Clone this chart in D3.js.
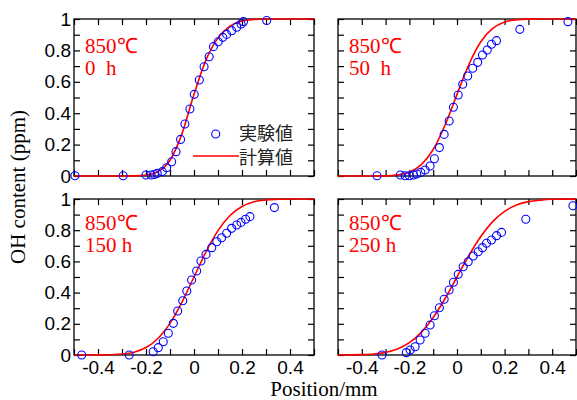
<!DOCTYPE html>
<html>
<head>
<meta charset="utf-8">
<script src="https://cdn.jsdelivr.net/npm/d3@7"></script>
<style>
  html, body { margin: 0; padding: 0; background: #fff; }
  svg { display: block; font-family: "Liberation Serif", "Times New Roman", serif; }
  .tick text { font-size: 19px; fill: #000; }
  .tick line { stroke: #000; stroke-width: 1.2; }
</style>
</head>
<body>
<div id="chart"></div>
<script>
// ---- data ----
var panelLabels = ["0\u2002h", "50\u2002h", "150 h", "250 h"];
var tempLabel = "850\u2103";
var xTicks = [-0.5, -0.4, -0.3, -0.2, -0.1, 0, 0.1, 0.2, 0.3, 0.4, 0.5];
var yTicks = [0, 0.1, 0.2, 0.3, 0.4, 0.5, 0.6, 0.7, 0.8, 0.9, 1];

// measured (実験値): position in mm
var exp0hX = [-0.496, -0.295, -0.2, -0.179, -0.165, -0.153, -0.132, -0.114, -0.093, -0.075, -0.056, -0.038, -0.017, 0.001, 0.022, 0.042, 0.063, 0.081, 0.101, 0.12, 0.136, 0.157, 0.178, 0.196, 0.206, 0.303];
var exp0hY = [0.002, 0.002, 0.006, 0.006, 0.01, 0.017, 0.028, 0.053, 0.091, 0.155, 0.233, 0.331, 0.427, 0.52, 0.611, 0.696, 0.76, 0.824, 0.855, 0.883, 0.902, 0.925, 0.947, 0.968, 0.983, 0.99];

var exp50hX = [-0.336, -0.238, -0.218, -0.2, -0.183, -0.169, -0.152, -0.134, -0.113, -0.095, -0.074, -0.054, -0.033, -0.015, 0.005, 0.024, 0.045, 0.066, 0.087, 0.107, 0.127, 0.145, 0.166, 0.264, 0.466];
var exp50hY = [0.002, 0.006, 0.002, 0.002, 0.006, 0.013, 0.023, 0.038, 0.064, 0.11, 0.181, 0.265, 0.35, 0.438, 0.516, 0.584, 0.637, 0.686, 0.724, 0.771, 0.803, 0.839, 0.862, 0.934, 0.983];

var exp150hX = [-0.468, -0.27, -0.17, -0.149, -0.128, -0.107, -0.086, -0.068, -0.047, -0.03, -0.01, 0.011, 0.029, 0.05, 0.074, 0.095, 0.115, 0.136, 0.157, 0.178, 0.196, 0.215, 0.233, 0.335];
var exp150hY = [0, 0, 0.021, 0.047, 0.085, 0.139, 0.203, 0.282, 0.348, 0.41, 0.481, 0.538, 0.603, 0.645, 0.688, 0.726, 0.752, 0.78, 0.812, 0.833, 0.85, 0.87, 0.887, 0.945];

var exp250hX = [-0.315, -0.213, -0.197, -0.176, -0.155, -0.134, -0.113, -0.095, -0.074, -0.054, -0.033, -0.015, 0.005, 0.026, 0.047, 0.068, 0.089, 0.107, 0.124, 0.145, 0.166, 0.187, 0.289, 0.487];
var exp250hY = [0, 0.015, 0.032, 0.053, 0.096, 0.139, 0.192, 0.252, 0.303, 0.357, 0.417, 0.466, 0.517, 0.566, 0.598, 0.635, 0.662, 0.688, 0.716, 0.737, 0.765, 0.786, 0.87, 0.957];

// calculated (計算値): sampled every 0.05 mm
var calcX = [-0.5, -0.45, -0.4, -0.35, -0.3, -0.25, -0.2, -0.15, -0.1, -0.05, 0, 0.05, 0.1, 0.15, 0.2, 0.25, 0.3, 0.35, 0.4, 0.45, 0.5];
var calc0h = [0, 0, 0, 0, 0, 0.001, 0.006, 0.028, 0.1, 0.27, 0.52, 0.74, 0.88, 0.955, 0.988, 0.997, 1, 1, 1, 1, 1];
var calc50h = [0, 0, 0, 0.0003, 0.001, 0.007, 0.024, 0.072, 0.169, 0.325, 0.52, 0.71, 0.855, 0.94, 0.981, 0.995, 0.999, 1, 1, 1, 1];
var calc150h = [0, 0, 0.0005, 0.0018, 0.006, 0.018, 0.048, 0.106, 0.203, 0.339, 0.5, 0.661, 0.797, 0.894, 0.952, 0.982, 0.994, 0.998, 1, 1, 1];
var calc250h = [0.0002, 0.0008, 0.0023, 0.0067, 0.017, 0.039, 0.079, 0.145, 0.24, 0.362, 0.5, 0.638, 0.76, 0.855, 0.921, 0.961, 0.983, 0.993, 0.998, 0.999, 1];

var expX = [exp0hX, exp50hX, exp150hX, exp250hX];
var expY = [exp0hY, exp50hY, exp150hY, exp250hY];
var calcY = [calc0h, calc50h, calc150h, calc250h];

// ---- layout ----
var W = 577, H = 400;
var cols = [[74, 314], [338, 576]];
var rows = [[19, 176], [199, 355]];

var svg = d3.select("#chart").append("svg")
  .attr("width", W)
  .attr("height", H);

function fmt(d) { return String(+d.toFixed(1)); }

panelLabels.forEach(function (label, i) {
  var c = cols[i % 2], r = rows[Math.floor(i / 2)];
  var x = d3.scaleLinear().domain([-0.5, 0.5]).range(c);
  var y = d3.scaleLinear().domain([0, 1]).range([r[1], r[0]]);
  var g = svg.append("g");
  var bottomRow = i >= 2, leftCol = i % 2 === 0;

  // inward ticks on all four sides
  var ax = [
    d3.axisBottom(x).tickValues(xTicks).tickSize(-6).tickPadding(6)
      .tickFormat(function (d) { return bottomRow && Math.round(d * 10) % 2 === 0 && Math.abs(d) < 0.5 ? fmt(d) : ""; }),
    d3.axisTop(x).tickValues(xTicks).tickSize(-6).tickFormat(""),
    d3.axisLeft(y).tickValues(yTicks).tickSize(-6).tickPadding(3)
      .tickFormat(function (d) { return leftCol && Math.round(d * 10) % 2 === 0 ? fmt(d) : ""; }),
    d3.axisRight(y).tickValues(yTicks).tickSize(-6).tickFormat("")
  ];
  var tr = ["translate(0," + r[1] + ")", "translate(0," + r[0] + ")",
            "translate(" + c[0] + ",0)", "translate(" + c[1] + ",0)"];
  ax.forEach(function (a, k) {
    var axg = g.append("g").attr("transform", tr[k]).call(a);
    axg.select(".domain").remove();
  });

  g.append("rect")
    .attr("x", c[0]).attr("y", r[0])
    .attr("width", c[1] - c[0]).attr("height", r[1] - r[0])
    .attr("fill", "none").attr("stroke", "#000").attr("stroke-width", 1.3);

  var line = d3.line()
    .x(function (d, j) { return x(calcX[j]); })
    .y(function (d) { return y(d); })
    .curve(d3.curveMonotoneX);

  g.append("path")
    .datum(calcY[i])
    .attr("d", line)
    .attr("fill", "none")
    .attr("stroke", "#ff0000")
    .attr("stroke-width", 1.6);

  g.append("g").selectAll("circle")
    .data(expX[i])
    .join("circle")
    .attr("cx", function (d) { return x(d); })
    .attr("cy", function (d, j) { return y(expY[i][j]); })
    .attr("r", 4)
    .attr("fill", "none")
    .attr("stroke", "#0000ff")
    .attr("stroke-width", 1.1);

  var ty = bottomRow ? r[0] + 31 : r[0] + 34;
  g.append("text")
    .attr("x", c[0] + 11).attr("y", ty)
    .attr("fill", "#ff0000").attr("font-size", 21)
    .text(tempLabel);
  g.append("text")
    .attr("x", c[0] + 11).attr("y", ty + 22)
    .attr("fill", "#ff0000").attr("font-size", 21)
    .text(label);
});

// legend (top-left panel only)
var cjk = "'Noto Sans CJK JP', 'Noto Sans CJK SC', sans-serif";
svg.append("circle")
  .attr("cx", 215.7).attr("cy", 134).attr("r", 4)
  .attr("fill", "none").attr("stroke", "#0000ff").attr("stroke-width", 1.1);
svg.append("line")
  .attr("x1", 193).attr("x2", 239).attr("y1", 156).attr("y2", 156)
  .attr("stroke", "#ff0000").attr("stroke-width", 1.6);
svg.append("text")
  .attr("x", 239).attr("y", 134).attr("dy", "0.36em")
  .style("font-family", cjk).attr("font-size", 18).attr("fill", "#222")
  .text("実験値");
svg.append("text")
  .attr("x", 239).attr("y", 158).attr("dy", "0.36em")
  .style("font-family", cjk).attr("font-size", 18).attr("fill", "#222")
  .text("計算値");

// axis titles
svg.append("text")
  .attr("x", 324).attr("y", 396)
  .attr("text-anchor", "middle").attr("font-size", 21)
  .text("Position/mm");
svg.append("text")
  .attr("transform", "translate(25,187) rotate(-90)")
  .attr("text-anchor", "middle").attr("font-size", 21)
  .text("OH content (ppm)");
</script>
</body>
</html>
